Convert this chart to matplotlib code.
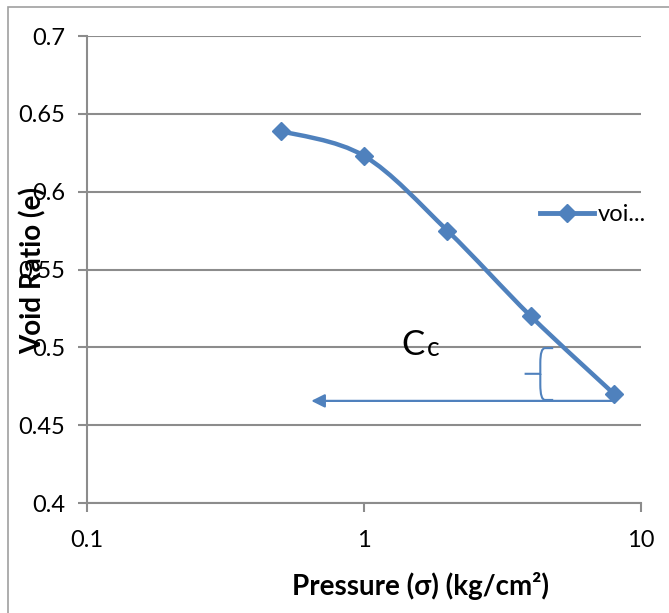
import numpy as np
import matplotlib
matplotlib.use('Agg')
import matplotlib.pyplot as plt
from matplotlib.path import Path
from matplotlib.patches import PathPatch, Rectangle
from matplotlib.lines import Line2D

plt.rcParams['font.family'] = ['Lato', 'DejaVu Sans']

# data
pressure = [0.5, 1, 2, 4, 8]
void_ratio = [0.639, 0.623, 0.575, 0.520, 0.470]
series_name = 'voi...'
x_ticks = [0.1, 1, 10]
x_tick_labels = ['0.1', '1', '10']
y_ticks = [0.4, 0.45, 0.5, 0.55, 0.6, 0.65, 0.7]
y_tick_labels = ['0.4', '0.45', '0.5', '0.55', '0.6', '0.65', '0.7']

blue = '#4f81bd'
grid_grey = '#8c8c8c'

W, H = 669, 613
fig = plt.figure(figsize=(W / 100, H / 100), dpi=100)
ax = fig.add_axes([87 / W, 1 - 503 / H, (641 - 87) / W, (503 - 36) / H])

# outer chart border (cut by the image edge on right/bottom)
fig.patches.append(Rectangle((8 / W, -0.1), 2, 1 - 7 / H + 0.1, transform=fig.transFigure,
                             fill=False, edgecolor='#a0a0a0', lw=1.2))

ax.set_xscale('log')
ax.set_xlim(0.1, 10)
ax.set_ylim(0.4, 0.7)
ax.set_xticks(x_ticks)
ax.set_xticklabels(x_tick_labels)
ax.xaxis.set_minor_locator(matplotlib.ticker.NullLocator())
ax.set_yticks(y_ticks)
ax.set_yticklabels(y_tick_labels)
ax.yaxis.grid(True, color=grid_grey, lw=1.5)
ax.set_axisbelow(True)
for side in ['top', 'right']:
    ax.spines[side].set_visible(False)
for side in ['left', 'bottom']:
    ax.spines[side].set_color(grid_grey)
    ax.spines[side].set_linewidth(1.5)
ax.tick_params(axis='both', direction='out', length=6.5, width=1.5, color=grid_grey,
               labelsize=17, labelcolor='black')
ax.tick_params(axis='y', pad=9)
ax.tick_params(axis='x', pad=13)

# smoothed line (Catmull-Rom bezier through the points, in log-x space)
lx = np.log10(pressure)
yy = np.array(void_ratio)
verts = [(pressure[0], yy[0])]
codes = [Path.MOVETO]
n = len(lx)
for i in range(n - 1):
    p0 = np.array([lx[max(i - 1, 0)], yy[max(i - 1, 0)]])
    p1 = np.array([lx[i], yy[i]])
    p2 = np.array([lx[i + 1], yy[i + 1]])
    p3 = np.array([lx[min(i + 2, n - 1)], yy[min(i + 2, n - 1)]])
    c1 = p1 + (p2 - p0) / 6
    c2 = p2 - (p3 - p1) / 6
    for c in (c1, c2, p2):
        verts.append((10 ** c[0], c[1]))
        codes.append(Path.CURVE4)
ax.add_patch(PathPatch(Path(verts, codes), fill=False, edgecolor=blue, lw=3.2,
                       capstyle='round', zorder=3))
ax.plot(pressure, void_ratio, linestyle='none', marker='D', markersize=9,
        color=blue, zorder=4)

# legend
leg = ax.legend([Line2D([], [], color=blue, lw=3.5, marker='D', markersize=9)],
                [series_name], loc='center left', bbox_to_anchor=(0.818, 0.617),
                frameon=False, fontsize=17, handlelength=2.3, handletextpad=0.15,
                borderaxespad=0, borderpad=0)

# Cc annotation: arrow and brace
ax.annotate('', xy=(0.645, 0.4656), xytext=(8.1, 0.4656),
            arrowprops=dict(arrowstyle='-|>', color=blue, lw=1.6,
                            mutation_scale=20, shrinkA=0, shrinkB=0))
brace = Path([(4.82, 0.4995), (4.5, 0.4995), (4.33, 0.4995), (4.33, 0.490),
              (4.33, 0.483), (3.80, 0.483), (4.33, 0.483),
              (4.33, 0.476), (4.33, 0.4662), (4.5, 0.4662), (4.82, 0.4662)],
             [Path.MOVETO, Path.LINETO, Path.CURVE3, Path.CURVE3,
              Path.LINETO, Path.LINETO, Path.MOVETO,
              Path.LINETO, Path.CURVE3, Path.CURVE3, Path.LINETO])
ax.add_patch(PathPatch(brace, fill=False, edgecolor=blue, lw=1.5))
ax.text(1.36, 0.5015, 'C', fontsize=25, ha='left', va='center')
ax.text(1.69, 0.4995, 'c', fontsize=19, ha='left', va='center')

fig.text(420 / W, 1 - 586 / H, 'Pressure (σ) (kg/cm²)', fontsize=20, fontweight='bold',
         ha='center', va='center')
fig.text(33 / W, 1 - 270 / H, 'Void Ratio (e)', fontsize=20, fontweight='bold',
         rotation=90, ha='center', va='center')

fig.savefig('out.png', dpi=100)
